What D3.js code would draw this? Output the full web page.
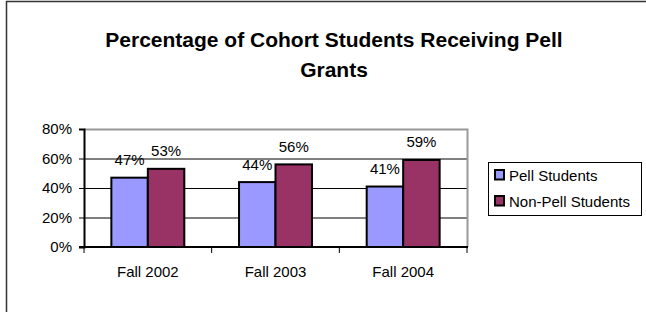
<!DOCTYPE html>
<html>
<head>
<meta charset="utf-8">
<script src="https://cdn.jsdelivr.net/npm/d3@7"></script>
<style>
  body { margin: 0; background: #fff; }
  svg { display: block; font-family: "Liberation Sans", Arial, sans-serif; }
</style>
</head>
<body>
<div id="chart"></div>
<script>
const CATEGORIES = ['Fall 2002', 'Fall 2003', 'Fall 2004']
const SERIES = ['Pell Students', 'Non-Pell Students']
const PELL = [47, 44, 41]
const NON_PELL = [53, 56, 59]
const Y_TICKS = [0, 20, 40, 60, 80]
const TITLE = ['Percentage of Cohort Students Receiving Pell', 'Grants']

const COLORS = {
  'Pell Students': '#9999ff',
  'Non-Pell Students': '#993366'
}

const W = 646
const H = 312
const plot = { left: 84, top: 129, right: 467, bottom: 247 }

const svg = d3.select('#chart').append('svg')
  .attr('width', W)
  .attr('height', H)

// chart frame (runs off the right/bottom edge in the original)
svg.append('rect')
  .attr('x', 6.5).attr('y', 1.5)
  .attr('width', W + 10).attr('height', H + 10)
  .attr('fill', '#fff')
  .attr('stroke', '#333').attr('stroke-width', 1.5)

// title
svg.append('text')
  .attr('text-anchor', 'middle')
  .attr('font-size', 21)
  .attr('font-weight', 'bold')
  .attr('fill', '#000')
  .selectAll('tspan')
  .data(TITLE)
  .join('tspan')
  .attr('x', 334)
  .attr('y', (d, i) => 47 + i * 29.5)
  .text(d => d)

const x0 = d3.scaleBand()
  .domain(CATEGORIES)
  .range([plot.left, plot.right])
  .paddingInner(0)

const x1 = d3.scaleBand()
  .domain(SERIES)
  .range([0, x0.bandwidth()])
  .paddingInner(0)
  .paddingOuter(0.75)

const y = d3.scaleLinear()
  .domain([0, 80])
  .range([plot.bottom, plot.top])

// gridlines
svg.append('g')
  .selectAll('line')
  .data(Y_TICKS.filter(t => t > 0 && t < 80))
  .join('line')
  .attr('x1', plot.left).attr('x2', plot.right)
  .attr('y1', d => y(d) + 0.5).attr('y2', d => y(d) + 0.5)
  .attr('stroke', '#000').attr('stroke-width', 1)

// plot border top + right (gray)
svg.append('path')
  .attr('d', `M${plot.left},${y(80) + 0.5}H${plot.right + 0.5}V${plot.bottom}`)
  .attr('fill', 'none')
  .attr('stroke', '#999').attr('stroke-width', 2)

const table = CATEGORIES.map((c, i) => ({
  category: c,
  values: [
    { key: SERIES[0], value: PELL[i] },
    { key: SERIES[1], value: NON_PELL[i] }
  ]
}))

const groups = svg.append('g')
  .selectAll('g')
  .data(table)
  .join('g')
  .attr('transform', d => `translate(${x0(d.category)},0)`)

groups.selectAll('rect')
  .data(d => d.values)
  .join('rect')
  .attr('x', d => x1(d.key))
  .attr('y', d => y(d.value))
  .attr('width', x1.bandwidth())
  .attr('height', d => y(0) - y(d.value))
  .attr('fill', d => COLORS[d.key])
  .attr('stroke', '#000')
  .attr('stroke-width', 2)

groups.selectAll('text')
  .data(d => d.values)
  .join('text')
  .attr('x', d => x1(d.key) + x1.bandwidth() / 2)
  .attr('y', d => y(d.value) - 12.5)
  .attr('text-anchor', 'middle')
  .attr('font-size', 15)
  .attr('fill', '#000')
  .text(d => d.value + '%')

// y axis
const yAxis = svg.append('g')
  .attr('transform', `translate(${plot.left},0)`)
  .call(d3.axisLeft(y).tickValues(Y_TICKS).tickSize(5).tickPadding(7).tickFormat(d => d + '%'))
yAxis.select('.domain').attr('stroke', '#000').attr('stroke-width', 2)
yAxis.selectAll('.tick line').attr('stroke', '#000')
yAxis.selectAll('.tick text')
  .attr('font-size', 15)
  .attr('font-family', '"Liberation Sans", Arial, sans-serif')
  .attr('fill', '#000')

// x axis with ticks at category boundaries
const xAxis = svg.append('g')
  .attr('transform', `translate(0,${plot.bottom})`)
xAxis.append('line')
  .attr('x1', plot.left - 5).attr('x2', plot.right + 1)
  .attr('stroke', '#000').attr('stroke-width', 2)
xAxis.selectAll('.xtick')
  .data(CATEGORIES.map(c => x0(c)).concat([x0.range()[1]]))
  .join('line')
  .attr('class', 'xtick')
  .attr('x1', d => d).attr('x2', d => d)
  .attr('y1', 0).attr('y2', 6)
  .attr('stroke', '#000')
xAxis.selectAll('text')
  .data(CATEGORIES)
  .join('text')
  .attr('x', d => x0(d) + x0.bandwidth() / 2)
  .attr('y', 29.5)
  .attr('text-anchor', 'middle')
  .attr('font-size', 15)
  .attr('fill', '#000')
  .text(d => d)

// legend
const legend = svg.append('g').attr('transform', 'translate(488,162)')
legend.append('rect')
  .attr('x', 0.5).attr('y', 0.5)
  .attr('width', 153).attr('height', 53)
  .attr('fill', '#fff')
  .attr('stroke', '#000').attr('stroke-width', 1)

const items = legend.selectAll('.item')
  .data(SERIES)
  .join('g')
  .attr('class', 'item')
  .attr('transform', (d, i) => `translate(0,${i * 26})`)
items.append('rect')
  .attr('x', 7).attr('y', 8)
  .attr('width', 9).attr('height', 9.5)
  .attr('fill', d => COLORS[d])
  .attr('stroke', '#000').attr('stroke-width', 2)
items.append('text')
  .attr('x', 21).attr('y', 18.7)
  .attr('font-size', 15)
  .attr('fill', '#000')
  .text(d => d)
</script>
</body>
</html>
